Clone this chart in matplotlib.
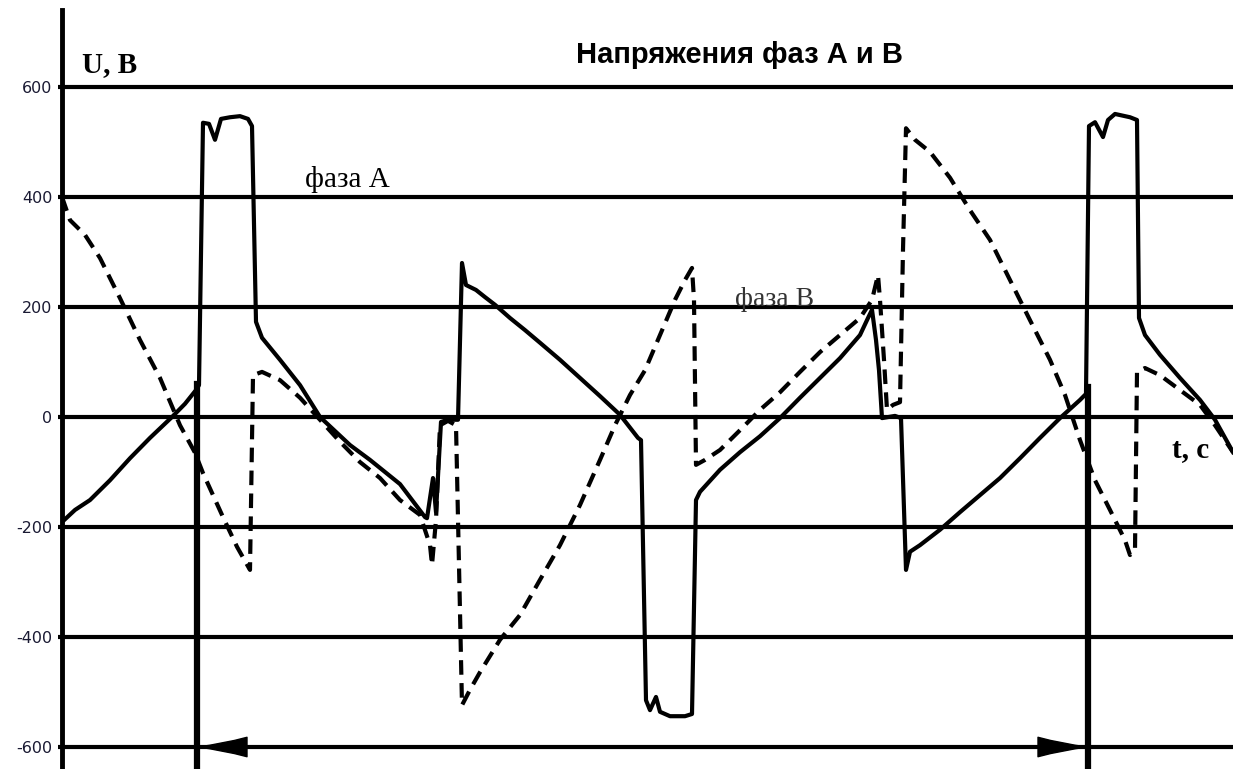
import numpy as np
import matplotlib.pyplot as plt

# phase A (solid) - time in arbitrary units, voltage in V
t_a = [0, 13, 28, 48, 68, 88, 110, 123, 134, 137, 141, 147, 153, 159, 168, 178, 186, 190,
       194, 200, 218, 238, 258, 288, 308, 338, 363,
       365, 371, 374, 379, 386, 396, 400, 404, 414, 423, 433, 448, 463, 478, 498, 518, 538, 558, 576, 579,
       584, 588, 594, 598, 608, 623, 630,
       634, 638, 658, 678, 698, 718, 738, 758, 778, 798, 806, 810, 814, 817, 820, 833, 839,
       844, 848, 858, 878, 898, 918, 938, 958, 978, 998, 1018, 1024,
       1027, 1033, 1041, 1046, 1053, 1068, 1075, 1077, 1083, 1098, 1118, 1138, 1153, 1171]
u_a = [-191, -169, -151, -115, -75, -38, 0, 24, 49, 58, 535, 533, 504, 542, 545, 547, 542, 529,
       173, 144, 104, 58, 0, -51, -78, -122, -182,
       -184, -111, -173, -9, -5, -5, 280, 240, 231, 218, 204, 180, 158, 135, 104, 71, 38, 4, -38, -42,
       -515, -533, -509, -536, -544, -544, -540,
       -151, -136, -96, -64, -35, -2, 35, 71, 107, 149, 180, 195, 140, 85, -2, 2, -2,
       -278, -245, -233, -205, -173, -142, -111, -75, -38, -2, 31, 42,
       529, 536, 509, 540, 551, 545, 540, 180, 149, 113, 71, 31, -5, -64]

# phase B (dashed)
t_b = [0, 8, 23, 38, 58, 78, 98, 118, 133, 141, 150, 161, 175, 188,
       191, 200, 218, 238, 258, 278, 298, 318, 338, 358, 368, 370,
       374, 378, 386, 394, 400, 408, 418, 438, 458, 478, 498, 518, 538, 553, 568, 583, 598, 613, 623, 630,
       632, 634, 643, 658, 678, 698, 718, 738, 758, 778, 798, 810, 816,
       818, 822, 825, 831, 838, 841, 844, 853, 868, 888, 908, 928, 948, 968, 988, 1003, 1018, 1033,
       1048, 1063, 1068, 1073, 1075, 1083, 1098, 1118, 1138, 1153, 1171]
u_b = [400, 358, 331, 289, 216, 140, 71, -15, -65, -102, -138, -182, -236, -278,
       76, 82, 67, 35, -5, -45, -82, -111, -151, -178, -233, -269,
       -187, -15, -7, -15, -524, -496, -464, -405, -360, -296, -233, -160, -78, -15, 40, 85, 149, 213, 249, 271,
       213, -87, -78, -60, -24, 13, 45, 82, 118, 149, 180, 213, 258,
       213, 104, 13, 22, 27, 304, 525, 504, 482, 435, 376, 322, 249, 176, 104, 40, -42, -115,
       -169, -224, -251, -242, 82, 89, 76, 49, 22, -15, -64]

y_ticks = [-600, -400, -200, 0, 200, 400, 600]
t_marks = [135, 1026]
mark_top = [60, 55]

fig = plt.figure(figsize=(12.33, 7.69), dpi=100)
ax = fig.add_axes([62 / 1233, 0, 1 - 62 / 1233, 759 / 769])
ax.set_xlim(0, 1171)
ax.set_ylim(-640, 740)

for y in y_ticks:
    ax.axhline(y, color='black', lw=3, zorder=1)

ax.plot(t_a, u_a, color='black', lw=3, solid_joinstyle='round', zorder=3)
ax.plot(t_b, u_b, color='black', lw=3, linestyle=(0, (3.5, 2)), zorder=3)

for tm, top in zip(t_marks, mark_top):
    ax.plot([tm, tm], [top, -640], color='black', lw=4.5, zorder=4)

# arrows on the -600 line
ax.annotate('', xy=(t_marks[0], -600), xytext=(t_marks[0] + 50, -600),
            arrowprops=dict(arrowstyle='wedge,tail_width=0.7,shrink_factor=0.4',
                            color='black', mutation_scale=20, shrinkA=0, shrinkB=0))
ax.annotate('', xy=(t_marks[1], -600), xytext=(t_marks[1] - 50, -600),
            arrowprops=dict(arrowstyle='wedge,tail_width=0.7,shrink_factor=0.4',
                            color='black', mutation_scale=20, shrinkA=0, shrinkB=0))

ax.set_yticks(y_ticks)
ax.set_yticklabels([str(v) for v in y_ticks], fontsize=11.5, color='#1a1a33')
ax.set_xticks([])
ax.tick_params(axis='y', length=3, width=3, pad=4)
for s in ['top', 'right', 'bottom']:
    ax.spines[s].set_visible(False)
ax.spines['left'].set_linewidth(3.5)

ax.text(678, 658, 'Напряжения фаз А и В', fontsize=21, fontweight='bold',
        family='Liberation Sans', ha='center', va='center')
ax.text(20, 640, 'U, B', fontsize=21, fontweight='bold', family='Liberation Serif',
        ha='left', va='center')
ax.text(243, 431, 'фаза А', fontsize=21, family='Liberation Serif', ha='left', va='center')
ax.text(673, 213, 'фаза В', fontsize=20, family='Liberation Serif', ha='left', va='center',
        color='#333333', zorder=2)
ax.text(1110, -60, 't, c', fontsize=21, fontweight='bold', family='Liberation Serif',
        ha='left', va='center')

plt.savefig('out.png', dpi=100)
